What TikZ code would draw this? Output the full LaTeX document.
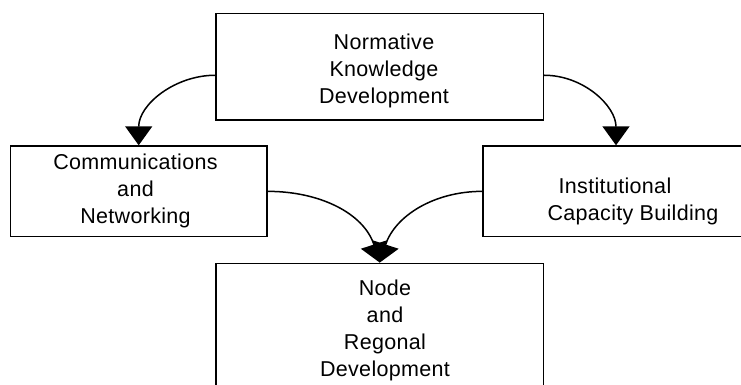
\documentclass[tikz,border=0pt]{standalone}
\usepackage{fontspec}
\setmainfont{Liberation Sans}
\newfontfamily\lsfont[LetterSpace=1.5]{Liberation Sans}
\usetikzlibrary{arrows.meta}
\begin{document}
\begin{tikzpicture}[x=1pt,y=-1pt,
  box/.style={draw, line width=1.4pt, rectangle, inner sep=0pt},
  txt/.style={inner sep=0pt, anchor=north, align=center, font=\lsfont\fontsize{21.5}{27}\selectfont},
  conn/.style={line width=1.5pt, -{Triangle[width=27pt,length=19pt]}}]
\useasboundingbox (0,0) rectangle (741,385);
% boxes
\node[box, minimum width=327.5pt, minimum height=106.7pt] (top) at (379.75,66.65) {};
\node[box, minimum width=256.6pt, minimum height=90.7pt] (left) at (138.7,191.35) {};
\node[box, minimum width=266pt, minimum height=90.7pt] (right) at (616,191.35) {};
\node[box, minimum width=327.5pt, minimum height=133.4pt] (bottom) at (379.75,330) {};
% texts
\node[txt] (toptext) at (384,33.9) {Normative\\Knowledge\\Development};
\node[txt] (lefttext) at (135.5,153.9) {Communications\\and\\Networking};
\node[txt] (righttext) at (633,177.9) {Institutional\hspace*{36pt}\\Capacity Building};
\node[txt] (bottomtext) at (385,279.6) {Node\\and\\Regonal\\Development};
% connectors
\coordinate (tl) at ([yshift=-8.6pt]top.west);
\coordinate (tr) at ([yshift=-8.6pt]top.east);
\draw[conn] (tl) to[out=180,in=90] (left.north);
\draw[conn] (tr) to[out=0,in=90] (right.north);
\draw[conn] (left.east) to[out=0,in=108] (bottom.north);
\draw[conn] (right.west) to[out=180,in=72] (bottom.north);
\end{tikzpicture}
\end{document}
